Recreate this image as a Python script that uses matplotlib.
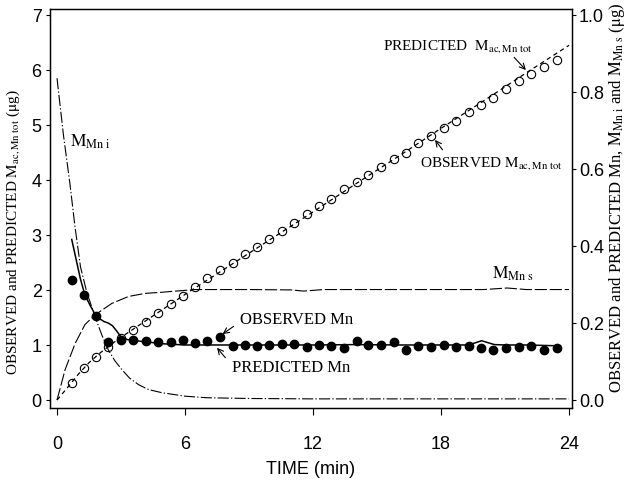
import matplotlib
matplotlib.use('Agg')
import matplotlib.pyplot as plt

plt.rcParams['mathtext.fontset'] = 'stix'
plt.rcParams['font.family'] = ['Liberation Sans', 'DejaVu Sans']

# sampling times (min)
t_obs = [0.69, 1.28, 1.85, 2.41, 2.99, 3.58, 4.17, 4.74, 5.32, 5.90,
         6.48, 7.05, 7.64, 8.23, 8.80, 9.38, 9.96, 10.55, 11.13, 11.70,
         12.28, 12.86, 13.43, 14.04, 14.60, 15.19, 15.80, 16.38, 16.94, 17.53,
         18.12, 18.71, 19.29, 19.88, 20.46, 21.06, 21.64, 22.22, 22.81, 23.42]

# observed M_ac,Mn tot (ug, left axis)
mac_obs = [0.31, 0.58, 0.79, 0.96, 1.12, 1.27, 1.42, 1.58, 1.74, 1.89,
           2.05, 2.21, 2.36, 2.50, 2.65, 2.79, 2.93, 3.08, 3.22, 3.38,
           3.52, 3.66, 3.83, 3.96, 4.09, 4.23, 4.39, 4.50, 4.67, 4.80,
           4.95, 5.07, 5.23, 5.37, 5.49, 5.65, 5.80, 5.93, 6.05, 6.19]

# observed Mn (ug, right axis)
mn_obs = [0.311, 0.274, 0.217, 0.151, 0.157, 0.156, 0.153, 0.151, 0.150, 0.156,
          0.147, 0.153, 0.164, 0.140, 0.144, 0.141, 0.144, 0.146, 0.146, 0.137,
          0.144, 0.140, 0.136, 0.153, 0.144, 0.144, 0.151, 0.129, 0.141, 0.139,
          0.144, 0.139, 0.141, 0.136, 0.129, 0.136, 0.139, 0.140, 0.131, 0.136]

# predicted M_ac,Mn tot (left axis)
t_mac_pred = [0, 0.5, 1, 1.5, 2, 2.5, 3, 4, 5, 6, 8, 10, 12, 14, 16, 18, 20, 22, 24]
mac_pred = [0, 0.23, 0.47, 0.68, 0.85, 1.00, 1.14, 1.40, 1.66, 1.92,
            2.42, 2.92, 3.42, 3.93, 4.43, 4.94, 5.44, 5.95, 6.45]

# predicted Mn (right axis)
t_mn_pred = [0.69, 0.9, 1.1, 1.3, 1.55, 1.8, 2.0, 2.2, 2.4, 2.6, 2.8, 3.0, 3.3, 3.7,
             4.2, 5.0, 6.0, 8.0, 10.0, 12.0, 14.0, 16.0, 18.0, 19.3, 19.9, 20.5,
             21.0, 22.0, 23.4]
mn_pred = [0.417, 0.364, 0.314, 0.274, 0.246, 0.221, 0.211, 0.204, 0.200, 0.193,
           0.179, 0.164, 0.157, 0.154, 0.151, 0.146, 0.143, 0.143, 0.143, 0.143,
           0.144, 0.143, 0.143, 0.143, 0.154, 0.144, 0.143, 0.143, 0.141]

# M_Mn i (right axis)
t_mni = [0, 0.3, 0.6, 0.85, 1.1, 1.4, 1.78, 2.1, 2.41, 2.7, 3.04, 3.4, 3.82,
         4.3, 4.92, 6, 7, 9, 12, 16, 20, 24]
mni = [0.836, 0.689, 0.564, 0.447, 0.346, 0.279, 0.217, 0.169, 0.130, 0.103,
       0.079, 0.057, 0.040, 0.027, 0.019, 0.010, 0.006, 0.004, 0.003, 0.003,
       0.003, 0.003]

# M_Mn s (right axis)
t_mns = [0, 0.38, 0.85, 1.31, 1.78, 2.57, 3.35, 4.13, 4.92, 6.48, 9, 11, 11.55,
         12.5, 16, 20, 21.1, 22, 24]
mns = [0, 0.079, 0.147, 0.196, 0.221, 0.251, 0.269, 0.277, 0.280, 0.287, 0.287,
       0.286, 0.283, 0.287, 0.287, 0.287, 0.291, 0.287, 0.287]

x_ticks = [0, 6, 12, 18, 24]
left_ticks = [0, 1, 2, 3, 4, 5, 6, 7]
right_ticks = [0.0, 0.2, 0.4, 0.6, 0.8, 1.0]

fig = plt.figure(figsize=(6.31, 4.87), dpi=100)
ax = fig.add_axes([0.0792, 0.1622, 0.8273, 0.8193])
ax2 = ax.twinx()

ylo, yhi = -0.145, 7.11
ax.set_xlim(-0.33, 24.14)
ax.set_ylim(ylo, yhi)
ax2.set_ylim(ylo / 7, yhi / 7)

# left axis series
ax.plot(t_mac_pred, mac_pred, color='black', lw=0.9, dashes=(3.5, 2.8))
ax.plot(t_obs, mac_obs, 'o', mfc='none', mec='black', mew=0.8, ms=6)

# right axis series
ax2.plot(t_mni, mni, color='black', lw=0.8, dashes=(10, 2, 1.2, 2))
ax2.plot(t_mns, mns, color='black', lw=0.8, dashes=(11, 2.5))
ax2.plot(t_mn_pred, mn_pred, color='black', lw=1.1)
ax2.plot(t_obs, mn_obs, 'o', color='black', ms=6)

ax.set_xticks(x_ticks)
ax.set_yticks(left_ticks)
ax2.set_yticks(right_ticks)
ax2.set_yticklabels(['%.1f' % v for v in right_ticks])
ax.tick_params(axis='x', direction='out', length=5, width=0.8, pad=15, labelsize=13)
ax.tick_params(axis='y', direction='out', length=3, width=0.8, pad=3, labelsize=13)
ax2.tick_params(axis='y', direction='out', length=3, width=0.8, pad=2, labelsize=13)
for a in (ax, ax2):
    for s in a.spines.values():
        s.set_linewidth(0.9)

ax.set_xlabel('TIME (min)', fontsize=13, labelpad=6)

serif = ['Liberation Serif', 'DejaVu Serif']
fig.text(0.021, 0.523, r'OBSERVED and PREDICTED $\mathrm{M_{ac,Mn\ tot}}$ ($\mathrm{\mu}$g)',
         rotation=90, ha='center', va='center', fontsize=11, family=serif)
fig.text(0.978, 0.594,
         r'OBSERVED and PREDICTED Mn, $\mathrm{M_{Mn\ i}}$ and $\mathrm{M_{Mn\ s}}$ ($\mathrm{\mu}$g)',
         rotation=90, ha='center', va='center', fontsize=12, family=serif)

arrow = dict(arrowstyle='->', color='black', lw=0.8, shrinkA=0, shrinkB=0)
ax.text(8.6, 1.45, 'OBSERVED Mn', fontsize=12, family=serif, va='center')
ax.annotate('', xy=(7.76, 1.20), xytext=(8.28, 1.34), arrowprops=arrow)
ax.text(8.22, 0.58, 'PREDICTED Mn', fontsize=12, family=serif, va='center')
ax.annotate('', xy=(7.5, 0.95), xytext=(7.89, 0.77), arrowprops=arrow)
ax.text(15.3, 6.42, r'PREDICTED  $\mathrm{M_{ac,Mn\ tot}}$', fontsize=11, family=serif, va='center')
ax.annotate('', xy=(21.98, 6.0), xytext=(21.43, 6.23), arrowprops=arrow)
ax.text(17.0, 4.30, r'OBSERVED $\mathrm{M_{ac,Mn\ tot}}$', fontsize=11, family=serif, va='center')
ax.annotate('', xy=(17.72, 4.73), xytext=(18.07, 4.55), arrowprops=arrow)
ax.text(0.61, 4.70, r'$\mathrm{M_{Mn\ i}}$', fontsize=12.5, va='center')
ax.text(20.38, 2.30, r'$\mathrm{M_{Mn\ s}}$', fontsize=12.5, va='center')

fig.savefig('out.png', dpi=100)
